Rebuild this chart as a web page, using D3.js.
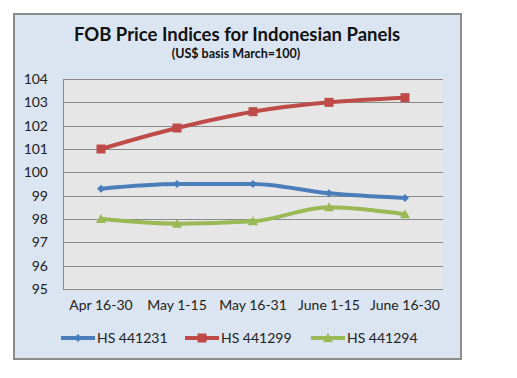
<!DOCTYPE html>
<html><head><meta charset="utf-8">
<script src="https://cdn.jsdelivr.net/npm/d3@7"></script>
<style>body{margin:0;background:#fff}svg{display:block}</style>
</head><body>
<script>
const categories = ["Apr 16-30","May 1-15","May 16-31","June 1-15","June 16-30"];
const seriesNames = ["HS 441231","HS 441299","HS 441294"];
const hs441231 = [99.3, 99.5, 99.5, 99.1, 98.9];
const hs441299 = [101.0, 101.9, 102.6, 103.0, 103.2];
const hs441294 = [98.0, 97.8, 97.9, 98.5, 98.2];
const yTicks = [95,96,97,98,99,100,101,102,103,104];
const colors = ["#4a7ebb","#be4b48","#98b954"];
const series = [hs441231, hs441299, hs441294];

const W=517,H=378;
const svg=d3.select("body").append("svg").attr("width",W).attr("height",H);
const font="Lato, 'Open Sans', sans-serif";
svg.append("rect").attr("x",14).attr("y",14).attr("width",447).attr("height",345)
  .attr("fill","#dbe5f1").attr("stroke","#8c8c8c").attr("stroke-width",2);

const m={l:63,r:443,t:79,b:289};
const x=d3.scaleBand().domain(categories).range([m.l,m.r]);
const y=d3.scaleLinear().domain([95,104]).range([m.b,m.t]);

svg.append("rect").attr("x",m.l).attr("y",m.t).attr("width",m.r-m.l).attr("height",m.b-m.t)
  .attr("fill","#e6e6e6");
svg.append("g").selectAll("line").data(yTicks).join("line")
  .attr("x1",m.l).attr("x2",m.r).attr("y1",d=>Math.round(y(d))+0.5).attr("y2",d=>Math.round(y(d))+0.5)
  .attr("stroke","#8a8a8a").attr("stroke-width",1);
svg.append("line").attr("x1",m.l+0.5).attr("x2",m.l+0.5).attr("y1",m.t).attr("y2",m.b).attr("stroke","#8a8a8a");

const yAxis=svg.append("g").attr("transform",`translate(${m.l},0)`)
  .call(d3.axisLeft(y).tickValues(yTicks).tickSize(0).tickPadding(15));
yAxis.select(".domain").remove();
yAxis.selectAll("text").attr("font-family",font).attr("font-size",14).attr("fill","#222");

const xAxis=svg.append("g").attr("transform",`translate(0,${m.b})`)
  .call(d3.axisBottom(x).tickSize(0).tickPadding(11));
xAxis.select(".domain").remove();
xAxis.selectAll("text").attr("font-family",font).attr("font-size",14).attr("fill","#222");

svg.append("text").attr("x",237).attr("y",41).attr("text-anchor","middle")
  .attr("font-family",font).attr("font-weight","bold").attr("font-size",18.5).attr("fill","#111")
  .text("FOB Price Indices for Indonesian Panels");
svg.append("text").attr("x",236).attr("y",58).attr("text-anchor","middle")
  .attr("font-family",font).attr("font-weight","bold").attr("font-size",12.5).attr("fill","#111")
  .text("(US$ basis March=100)");

const cx=(i)=>x(categories[i])+x.bandwidth()/2;
const line=d3.line().x((d,i)=>cx(i)).y(d=>y(d)).curve(d3.curveMonotoneX);

function marker(g,k,px,py,c){
  if(k===0) g.append("path").attr("d",`M${px},${py-4}L${px+4},${py}L${px},${py+4}L${px-4},${py}Z`).attr("fill",c);
  else if(k===1) g.append("rect").attr("x",px-4.5).attr("y",py-4.5).attr("width",9).attr("height",9).attr("fill",c);
  else g.append("path").attr("d",`M${px},${py-5}L${px+5},${py+4}L${px-5},${py+4}Z`).attr("fill",c);
}
series.forEach((s,k)=>{
  svg.append("path").datum(s).attr("d",line).attr("fill","none").attr("stroke",colors[k])
    .attr("stroke-width",4).attr("stroke-linejoin","round");
  const g=svg.append("g");
  s.forEach((v,i)=>marker(g,k,cx(i),y(v),colors[k]));
});

const legX=[61,185,311];
seriesNames.forEach((n,k)=>{
  const g=svg.append("g");
  g.append("line").attr("x1",legX[k]).attr("x2",legX[k]+34).attr("y1",338).attr("y2",338)
    .attr("stroke",colors[k]).attr("stroke-width",4);
  marker(g,k,legX[k]+17,338,colors[k]);
  g.append("text").attr("x",legX[k]+36).attr("y",343).attr("font-family",font).attr("font-size",14)
    .attr("fill","#222").text(n);
});
</script>
</body></html>
